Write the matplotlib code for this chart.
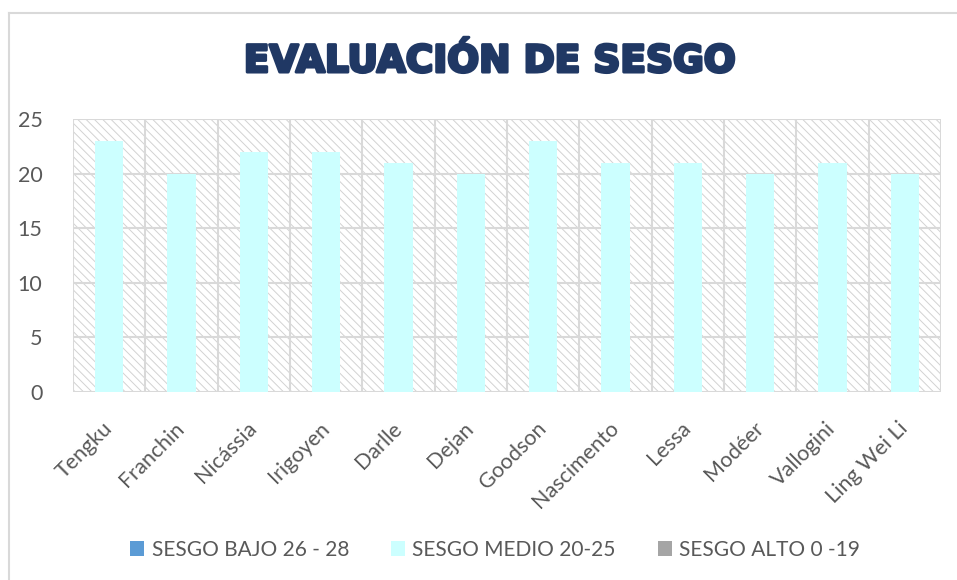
import matplotlib
matplotlib.use("Agg")
import matplotlib.pyplot as plt
import matplotlib.patheffects as pe
from matplotlib.patches import Rectangle, Patch
from matplotlib.lines import Line2D


names = ["Tengku", "Franchin", "Nicássia", "Irigoyen", "Darlle", "Dejan",
         "Goodson", "Nascimento", "Lessa", "Modéer", "Vallogini", "Ling Wei Li"]
scores = [23, 20, 22, 22, 21, 20, 23, 21, 21, 20, 21, 20]
yticks = [0, 5, 10, 15, 20, 25]

legend_labels = ["SESGO BAJO 26 - 28", "SESGO MEDIO 20-25", "SESGO ALTO 0 -19"]
legend_colors = ["#5B9BD5", "#CCFFFF", "#A5A5A5"]

TEXT = "#595959"
GRID = "#D9D9D9"
TITLE = "#203864"

plt.rcParams["font.family"] = ["Lato", "DejaVu Sans"]
plt.rcParams["hatch.linewidth"] = 0.7
plt.rcParams["hatch.color"] = "#D2D2D2"

fig = plt.figure(figsize=(9.57, 5.80), dpi=100)
ax = fig.add_axes([73 / 957, 1 - 392 / 580, 868 / 957, 273 / 580])

# outer frame of the chart area (top and left edges visible)
fig.add_artist(Line2D([9 / 957, 1.0], [1 - 13 / 580, 1 - 13 / 580],
                      transform=fig.transFigure, color=GRID, lw=1.5))
fig.add_artist(Line2D([9 / 957, 9 / 957], [0, 1 - 13 / 580],
                      transform=fig.transFigure, color=GRID, lw=1.5))

# hatched plot background
ax.add_patch(Rectangle((0, 0), 1, 1, transform=ax.transAxes,
                       facecolor="white", edgecolor="#D2D2D2",
                       hatch="\\\\\\\\", lw=0, zorder=0))

x = list(range(len(names)))
ax.bar(x, scores, width=0.39, color=legend_colors[1], zorder=3)

ax.set_xlim(-0.5, len(names) - 0.5)
ax.set_ylim(0, 25)
ax.set_yticks(yticks)
ax.set_xticks(x)
ax.set_xticklabels(names, rotation=45, ha="right", va="center",
                   rotation_mode="anchor", fontsize=15.5, color=TEXT)
ax.tick_params(axis="x", length=0, pad=24)
ax.tick_params(axis="y", length=0, pad=22, labelsize=15.5, labelcolor=TEXT)

# gridlines: horizontal at ticks, vertical at category boundaries
for yv in yticks:
    ax.axhline(yv, color=GRID, lw=1.5, zorder=1)
for b in range(len(names) + 1):
    ax.axvline(b - 0.5, color=GRID, lw=1.5, zorder=1)

for s in ax.spines.values():
    s.set_visible(False)

fig.text(490 / 957, 1 - 62 / 580, "EVALUACIÓN DE SESGO", ha="center", va="center",
         fontsize=27, fontweight="heavy", color=TITLE, family=["DejaVu Sans"],
         path_effects=[pe.withStroke(linewidth=2.2, foreground=TITLE)])

handles = [Patch(facecolor=c, edgecolor="none") for c in legend_colors]
fig.legend(handles, legend_labels, loc="center", bbox_to_anchor=(495 / 957, 1 - 550 / 580),
           ncol=3, frameon=False, fontsize=15, labelcolor=TEXT,
           handlelength=0.7, handleheight=0.7, handletextpad=0.35, columnspacing=2.0)

fig.savefig("out.png", dpi=100)
plt.close(fig)
